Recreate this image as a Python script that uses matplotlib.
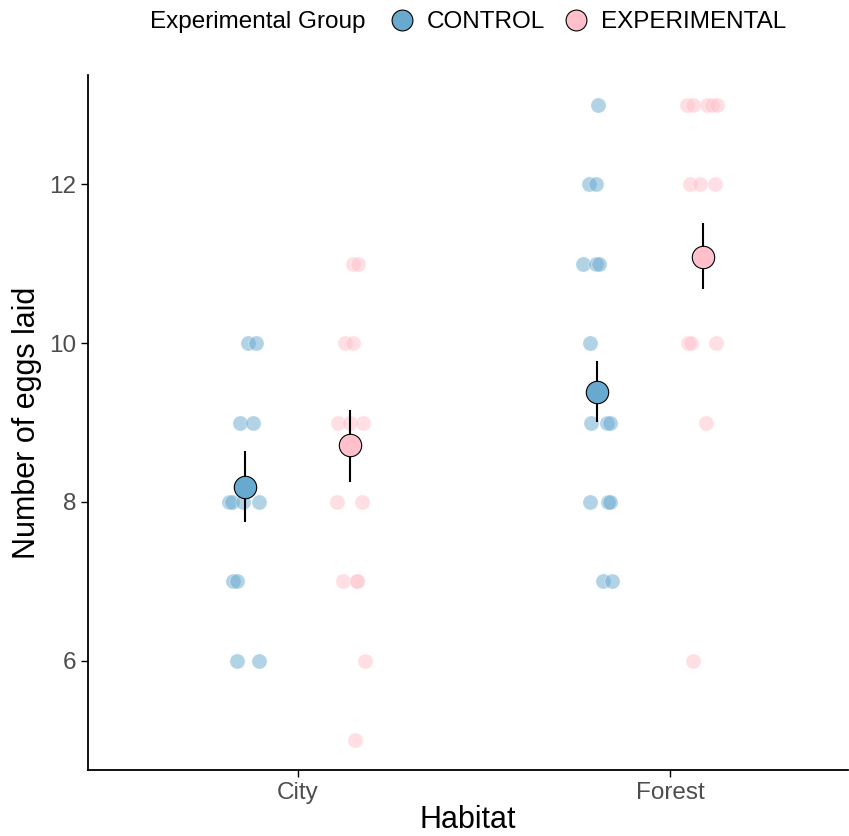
import matplotlib.pyplot as plt
from matplotlib.lines import Line2D

plt.rcParams['font.family'] = ['Liberation Sans', 'DejaVu Sans']

habitats = ["City", "Forest"]
groups = ["CONTROL", "EXPERIMENTAL"]
colors = {"CONTROL": "#67a9cf", "EXPERIMENTAL": "#ffc0cb"}

# jittered raw points (x in axis units, City=1, Forest=2)
city_control_x = [0.866, 0.887, 0.844, 0.879, 0.815, 0.823, 0.852, 0.895,
                  0.825, 0.836, 0.836, 0.895]
city_control_y = [10, 10, 9, 9, 8, 8, 8, 8, 7, 7, 6, 6]
city_exp_x = [1.148, 1.161, 1.126, 1.148, 1.108, 1.140, 1.175, 1.105, 1.172,
              1.121, 1.159, 1.159, 1.180, 1.153]
city_exp_y = [11, 11, 10, 10, 9, 9, 9, 8, 8, 7, 7, 7, 6, 5]
forest_control_x = [1.806, 1.782, 1.801, 1.766, 1.801, 1.809, 1.785, 1.788,
                    1.831, 1.839, 1.785, 1.833, 1.839, 1.820, 1.844]
forest_control_y = [13, 12, 12, 11, 11, 11, 10, 9, 9, 9, 8, 8, 8, 7, 7]
forest_exp_x = [2.046, 2.062, 2.099, 2.113, 2.126, 2.054, 2.081, 2.121,
                2.048, 2.056, 2.124, 2.097, 2.062]
forest_exp_y = [13, 13, 13, 13, 13, 12, 12, 12, 10, 10, 10, 9, 6]

# group means with error bars
mean_x = {"CONTROL": [0.857, 1.804], "EXPERIMENTAL": [1.140, 2.089]}
mean_y = {"CONTROL": [8.19, 9.39], "EXPERIMENTAL": [8.72, 11.09]}
err_lo = {"CONTROL": [7.74, 9.01], "EXPERIMENTAL": [8.25, 10.68]}
err_hi = {"CONTROL": [8.64, 9.78], "EXPERIMENTAL": [9.16, 11.52]}

fig = plt.figure(figsize=(8.49, 8.36), dpi=100)
ax = fig.add_axes([88 / 849, 1 - 770 / 836, 760 / 849, 695 / 836])

raw = [
    (city_control_x, city_control_y, "CONTROL"),
    (city_exp_x, city_exp_y, "EXPERIMENTAL"),
    (forest_control_x, forest_control_y, "CONTROL"),
    (forest_exp_x, forest_exp_y, "EXPERIMENTAL"),
]
for xs, ys, g in raw:
    ax.scatter(xs, ys, s=120, color=colors[g], alpha=0.5, edgecolors="white",
               linewidths=0.5, zorder=2)

for g in groups:
    ax.vlines(mean_x[g], err_lo[g], err_hi[g], color="black", lw=1.5, zorder=3)
    ax.scatter(mean_x[g], mean_y[g], s=260, color=colors[g], edgecolors="black",
               linewidths=0.8, zorder=4)

ax.set_xlim(0.4355, 2.478)
ax.set_ylim(4.62, 13.38)
ax.set_xticks([1, 2])
ax.set_xticklabels(habitats)
ax.set_yticks([6, 8, 10, 12])
ax.tick_params(labelsize=17.5, colors="#4d4d4d", length=5, width=1)
ax.tick_params(color="black")
for s in ["top", "right"]:
    ax.spines[s].set_visible(False)
for s in ["left", "bottom"]:
    ax.spines[s].set_linewidth(1.3)
ax.set_xlabel("Habitat", fontsize=22, labelpad=1)
ax.set_ylabel("Number of eggs laid", fontsize=22, labelpad=5)

fig.text(150 / 849, 1 - 22 / 836, "Experimental Group", fontsize=17.5,
         va="center", ha="left")
handles = [Line2D([], [], ls="", marker="o", markersize=15,
                  markerfacecolor=colors[g], markeredgecolor="black",
                  markeredgewidth=0.8) for g in groups]
fig.legend(handles, groups, ncol=2, loc="center left",
           bbox_to_anchor=(378 / 849, 1 - 22 / 836), frameon=False,
           fontsize=17.5, handletextpad=0.4, columnspacing=0.7,
           handlelength=1.2, borderaxespad=0)

fig.savefig("out.png", dpi=100)
